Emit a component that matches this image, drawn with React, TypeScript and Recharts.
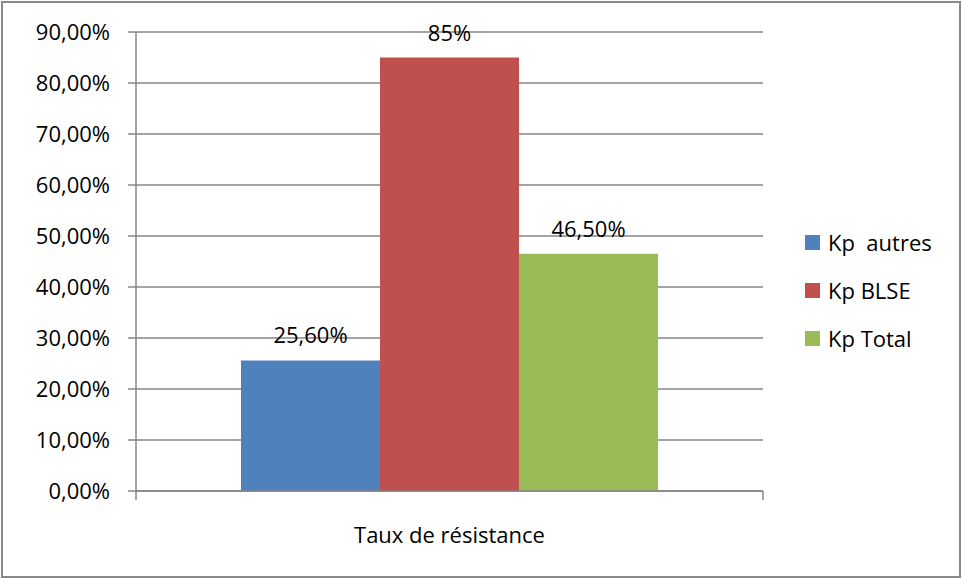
import { BarChart, Bar, XAxis, YAxis, CartesianGrid, Legend, LabelList } from "recharts"

const categories = ["Taux de résistance"]
const kpAutres = [25.6]
const kpBlse = [85]
const kpTotal = [46.5]
const yTicks = [0, 10, 20, 30, 40, 50, 60, 70, 80, 90]

const FONT = "'Open Sans', sans-serif"
const FONT_SIZE = 22
const AXIS = "#868686"

// Excel-style percent: whole numbers stay short, others get two decimals with a comma
const fmtValue = (v: number) =>
  Number.isInteger(v) ? `${v}%` : `${v.toFixed(2).replace(".", ",")}%`

const fmtTick = (v: number) => `${v.toFixed(2).replace(".", ",")}%`

function ValueLabel(props: any) {
  const { x, y, width, value } = props
  return (
    <text
      x={Number(x) + Number(width) / 2}
      y={Number(y) - 26}
      textAnchor="middle"
      dominantBaseline="central"
      fontSize={FONT_SIZE}
      fill="#000"
    >
      {fmtValue(Number(value))}
    </text>
  )
}

// category label plus tick marks at both band edges
function CategoryTick(props: any) {
  const { x, y, payload } = props
  const half = payload?.offset ?? 0
  return (
    <g>
      {half > 0 && (
        <>
          <line x1={x - half} x2={x - half} y1={y} y2={y + 9} stroke={AXIS} strokeWidth={1.5} />
          <line x1={x + half} x2={x + half} y1={y} y2={y + 9} stroke={AXIS} strokeWidth={1.5} />
        </>
      )}
      <text x={x} y={y + 43} textAnchor="middle" dominantBaseline="central" fontSize={FONT_SIZE} fill="#000">
        {payload.value}
      </text>
    </g>
  )
}

function LegendBox(props: any) {
  const { payload = [] } = props
  return (
    <div style={{ fontFamily: FONT, fontSize: FONT_SIZE, color: "#000" }}>
      {payload.map((p: any) => (
        <div key={p.value} style={{ display: "flex", alignItems: "center", height: 48 }}>
          <span style={{ width: 15, height: 15, background: p.color, marginRight: 8 }} />
          <span style={{ whiteSpace: "pre" }}>{p.value}</span>
        </div>
      ))}
    </div>
  )
}

export default function App() {
  const data = categories.map((name, i) => ({
    name,
    autres: kpAutres[i],
    blse: kpBlse[i],
    total: kpTotal[i],
  }))

  return (
    <div
      style={{
        position: "fixed",
        left: 1,
        top: 1,
        width: 960,
        height: 577,
        boxSizing: "border-box",
        border: "2px solid #898989",
        background: "#fff",
        fontFamily: FONT,
      }}
    >
      <BarChart
        width={956}
        height={573}
        data={data}
        margin={{ top: 29, right: 196, left: 0, bottom: 25 }}
        barCategoryGap={105}
        barGap={0}
      >
        <CartesianGrid vertical={false} stroke={AXIS} strokeWidth={1.5} />
        <XAxis
          dataKey="name"
          height={60}
          interval={0}
          tickSize={0}
          tickMargin={0}
          tickLine={false}
          axisLine={{ stroke: AXIS, strokeWidth: 1.5 }}
          tick={<CategoryTick />}
        />
        <YAxis
          width={133}
          domain={[0, 90]}
          ticks={yTicks}
          interval={0}
          tickFormatter={fmtTick}
          tickSize={8}
          tickMargin={18}
          axisLine={{ stroke: AXIS, strokeWidth: 1.5 }}
          tickLine={{ stroke: AXIS, strokeWidth: 1.5 }}
          tick={{ fill: "#000", fontSize: FONT_SIZE, fontFamily: FONT }}
        />
        <Legend
          content={<LegendBox />}
          verticalAlign="middle"
          align="center"
          wrapperStyle={{ left: 802, top: 215, width: 155 }}
        />
        <Bar dataKey="autres" name="Kp  autres" fill="#4F81BD" isAnimationActive={false}>
          <LabelList dataKey="autres" content={<ValueLabel />} />
        </Bar>
        <Bar dataKey="blse" name="Kp BLSE" fill="#C0504D" isAnimationActive={false}>
          <LabelList dataKey="blse" content={<ValueLabel />} />
        </Bar>
        <Bar dataKey="total" name="Kp Total" fill="#9BBB59" isAnimationActive={false}>
          <LabelList dataKey="total" content={<ValueLabel />} />
        </Bar>
      </BarChart>
    </div>
  )
}
